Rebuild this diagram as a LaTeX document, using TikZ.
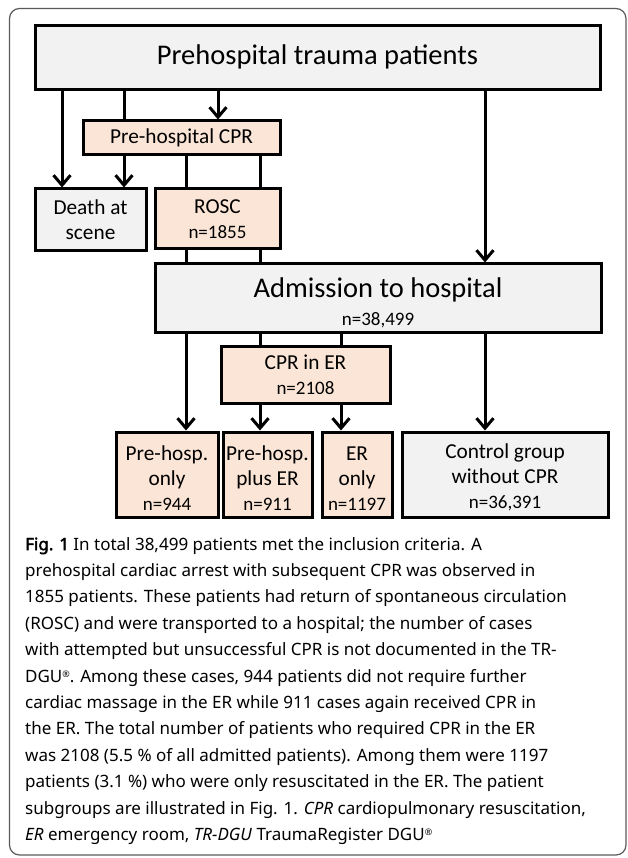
\documentclass[tikz,border=0pt]{standalone}
\usepackage{fontspec}
\setmainfont{Carlito}
\newfontfamily\capfont{Noto Sans}[BoldFont={Noto Sans}, BoldFeatures={FakeBold=2.5}]
\usetikzlibrary{arrows.meta}
\definecolor{boxgray}{HTML}{F2F2F2}
\definecolor{boxorange}{HTML}{FBE5D6}
\definecolor{framegray}{HTML}{5A5A5A}
\newcommand{\regmark}{{\fontsize{9}{9}\selectfont\raisebox{5pt}{®}}}
\newcommand{\lowstrut}{\rule{0pt}{21pt}}
\begin{document}
\begin{tikzpicture}[x=1pt,y=-1pt,
  box/.style={draw=black, line width=3pt, inner sep=0pt, align=center,
              font=\fontsize{21.3}{25}\selectfont},
  graybox/.style={box, fill=boxgray},
  orbox/.style={box, fill=boxorange},
  conn/.style={line width=3pt},
  arr/.style={conn, -{Straight Barb[length=10pt,width=17pt]}}]
\useasboundingbox (0,0) rectangle (627,858);
\draw[framegray, line width=1.2pt, rounded corners=10pt] (9.5,8.5) rectangle (626,855);

\node[graybox, minimum width=565pt, minimum height=64pt] (top) at (317.5,58)
  {\raisebox{7pt}{\fontsize{28.5}{32}\selectfont Prehospital trauma patients}};
\node[orbox, minimum width=197pt, minimum height=34pt] (pcpr) at (181.5,138) {Pre-hospital CPR};
\node[graybox, minimum width=111pt, minimum height=62pt] (death) at (90.5,220) {Death at\\scene};
\node[orbox, minimum width=125pt, minimum height=60pt] (rosc) at (217.5,219)
  {ROSC\\{\fontsize{19}{25}\selectfont n=1855}};
\node[graybox, minimum width=446pt, minimum height=68pt] (adm) at (378,298)
  {{\fontsize{28.5}{30}\selectfont\rule{0pt}{30pt}Admission to hospital}\\[3pt]{\fontsize{19}{25}\selectfont n=38,499}};
\node[orbox, minimum width=169pt, minimum height=57pt] (cprer) at (305.5,374.5)
  {CPR in ER\\{\fontsize{19}{25}\selectfont n=2108}};
\node[orbox, minimum width=102pt, minimum height=85pt] (b1) at (167,474.5)
  {\lowstrut Pre-hosp.\\only\\{\fontsize{19}{25}\selectfont n=944}};
\node[orbox, minimum width=89pt, minimum height=85pt] (b2) at (267.5,474.5)
  {\lowstrut Pre-hosp.\\plus ER\\{\fontsize{19}{25}\selectfont n=911}};
\node[orbox, minimum width=70pt, minimum height=85pt] (b3) at (357,474.5)
  {\lowstrut ER\\only\\{\fontsize{19}{25}\selectfont n=1197}};
\node[graybox, minimum width=206pt, minimum height=85pt] (b4) at (505,474.5)
  {\lowstrut Control group\\without CPR\\{\fontsize{19}{25}\selectfont n=36,391}};

\coordinate (c1) at (62,0);
\coordinate (c2) at (124,0);
\coordinate (c3) at (218,0);
\coordinate (c4) at (186,0);
\coordinate (c5) at (260,0);
\coordinate (c6) at (341,0);
\coordinate (c7) at (485,0);

\draw[arr] (top.south -| c1) -- (death.north -| c1);
\draw[conn] (top.south -| c2) -- (pcpr.north -| c2);
\draw[arr] (pcpr.south -| c2) -- (death.north -| c2);
\draw[arr] (top.south -| c3) -- (pcpr.north -| c3);
\draw[arr] (top.south -| c7) -- (adm.north -| c7);
\draw[conn] (pcpr.south -| c4) -- (rosc.north -| c4);
\draw[conn] (pcpr.south -| c5) -- (rosc.north -| c5);
\draw[conn] (rosc.south -| c4) -- (adm.north -| c4);
\draw[conn] (rosc.south -| c5) -- (adm.north -| c5);
\draw[arr] (adm.south -| c4) -- (b1.north -| c4);
\draw[conn] (adm.south -| c5) -- (cprer.north -| c5);
\draw[conn] (adm.south -| c6) -- (cprer.north -| c6);
\draw[arr] (cprer.south -| c5) -- (b2.north -| c5);
\draw[arr] (cprer.south -| c6) -- (b3.north -| c6);
\draw[arr] (adm.south -| c7) -- (b4.north -| c7);

\node[anchor=north west, inner sep=0pt, align=left,
      font=\capfont\fontsize{17}{26.4}\selectfont] (cap) at (25,537)
 {\textbf{Fig. 1} In total 38,499 patients met the inclusion criteria. A\\
  prehospital cardiac arrest with subsequent CPR was observed in\\
  1855 patients. These patients had return of spontaneous circulation\\
  (ROSC) and were transported to a hospital; the number of cases\\
  with attempted but unsuccessful CPR is not documented in the TR-\\
  DGU\regmark. Among these cases, 944 patients did not require further\\
  cardiac massage in the ER while 911 cases again received CPR in\\
  the ER. The total number of patients who required CPR in the ER\\
  was 2108 (5.5 \% of all admitted patients). Among them were 1197\\
  patients (3.1 \%) who were only resuscitated in the ER. The patient\\
  subgroups are illustrated in Fig. 1. \textit{CPR} cardiopulmonary resuscitation,\\
  \textit{ER} emergency room, \textit{TR-DGU} TraumaRegister DGU\regmark};
\end{tikzpicture}
\end{document}
